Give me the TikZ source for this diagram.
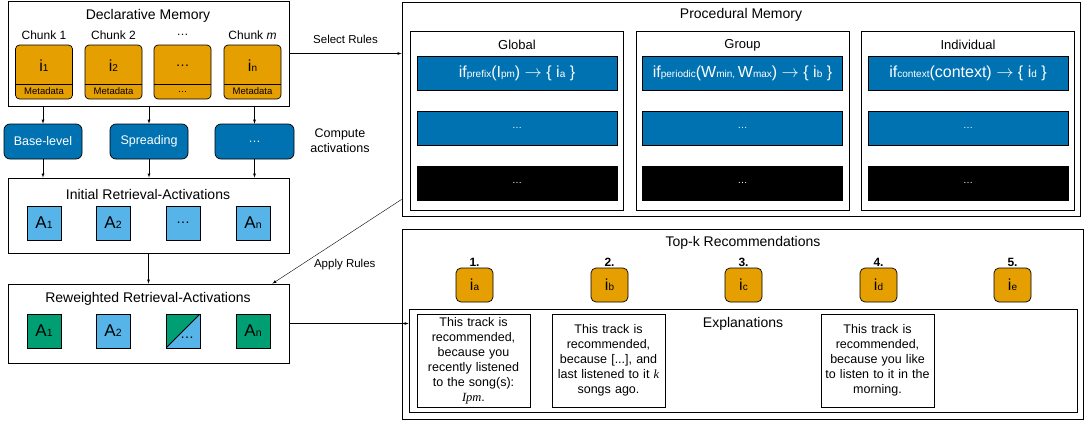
\documentclass[tikz,border=0pt]{standalone}
\usepackage{fontspec}
\setmainfont{Liberation Sans}
\newfontfamily\serifit{Liberation Serif}
\usetikzlibrary{positioning}
\definecolor{chorange}{HTML}{E69F00}
\definecolor{rblue}{HTML}{0072B2}
\definecolor{ablue}{HTML}{56B4E9}
\definecolor{agreen}{HTML}{009E73}
\newcommand{\bigi}[1]{{\fontsize{16}{16}\selectfont i}{\fontsize{10}{10}\selectfont #1}}
\newcommand{\bigA}[1]{{\fontsize{17}{17}\selectfont A}{\fontsize{10.5}{10.5}\selectfont #1}}
\newcommand{\lo}[1]{{\fontsize{10}{10}\selectfont #1}}

\begin{document}
\begin{tikzpicture}[x=1pt,y=-1pt,>=latex,
  panel/.style={draw,line width=0.8pt,inner sep=0pt},
  title/.style={font=\fontsize{14}{16}\selectfont},
  chunk/.style={draw,line width=0.7pt,fill=chorange,rounded corners=4pt,minimum width=57pt,minimum height=54pt,inner sep=0pt},
  comp/.style={draw,line width=0.7pt,fill=rblue,text=white,rounded corners=6pt,minimum height=35pt,font=\fontsize{12.5}{14}\selectfont},
  act/.style={draw,line width=0.8pt,minimum size=34pt,inner sep=0pt},
  rulebar/.style={draw,line width=0.7pt,fill=rblue,text=white,minimum width=200pt,minimum height=34pt,inner sep=0pt,font=\fontsize{16}{16}\selectfont},
  rank/.style={draw,line width=0.7pt,fill=chorange,rounded corners=5pt,minimum width=37pt,minimum height=34pt,inner sep=0pt},
  expbox/.style={draw,line width=0.8pt,minimum width=113pt,minimum height=93pt,text width=111pt,inner sep=1pt,align=center,font=\fontsize{12.5}{15}\selectfont},
  arrowlab/.style={font=\fontsize{11.5}{14}\selectfont}]
\useasboundingbox (0,0) rectangle (1086,423);

% declarative memory
\node[panel,minimum width=281pt,minimum height=105pt] (decl) at (148.5,53.5) {};
\node[title] (declT) at (148,16) {Declarative Memory};
\foreach \n/\x/\lab/\itm/\meta in {1/44/{Chunk 1}/{\bigi{1}}/Metadata,2/113.5/{Chunk 2}/{\bigi{2}}/Metadata,3/182.5/{…}/{\fontsize{14}{14}\selectfont …}/…,4/252.5/{Chunk \textit{m}}/{\bigi{n}}/Metadata}{
  \node[chunk] (ch\n) at (\x,72) {};
  \draw[line width=0.7pt] ([yshift=15pt]ch\n.south west) -- ([yshift=15pt]ch\n.south east);
  \node[font=\fontsize{12}{14}\selectfont] (chl\n) at (\x,35) {\lab};
  \node (chi\n) at (\x,66) {\itm};
  \node[font=\fontsize{9.5}{10}\selectfont] (chm\n) at (\x,91.5) {\meta};
}

% activation functions
\node[comp,minimum width=78pt] (bl) at (43,141.5) {Base-level};
\node[comp,minimum width=78pt] (sp) at (149,141.5) {Spreading};
\node[comp,minimum width=79pt] (cx) at (254.5,141.5) {…};
\node[align=center,font=\fontsize{12.5}{15}\selectfont] (compL) at (340,141) {Compute\\activations};

% initial activations
\node[panel,minimum width=281pt,minimum height=75pt] (init) at (148.5,215.5) {};
\node[title] (initT) at (148,194) {Initial Retrieval-Activations};
\foreach \n/\x/\t in {1/44/{\bigA{1}},2/113/{\bigA{2}},3/183/{\fontsize{14}{14}\selectfont …},4/253/{\bigA{n}}}
  \node[act,fill=ablue] (ia\n) at (\x,223) {\t};

\foreach \c in {bl,sp,cx}{
  \draw[->] (decl.south -| \c) -- (\c);
  \draw[->] (\c) -- (init.north -| \c);
}

% reweighted activations
\node[panel,minimum width=281pt,minimum height=79pt] (rew) at (148.5,323.5) {};
\node[title] (rewT) at (148,299) {Reweighted Retrieval-Activations};
\node[act,fill=agreen] (ra1) at (44,331) {\bigA{1}};
\node[act,fill=ablue] (ra2) at (113,331) {\bigA{2}};
\node[act,fill=ablue,path picture={
  \fill[agreen] (path picture bounding box.south west) -- (path picture bounding box.north west) -- (path picture bounding box.north east) -- cycle;
  \draw[line width=0.8pt] (path picture bounding box.south west) -- (path picture bounding box.north east);}] (ra3) at (183,331) {};
\node[font=\fontsize{14}{14}\selectfont] (ra3d) at (187,338) {…};
\node[act,fill=agreen] (ra4) at (253,331) {\bigA{n}};
\draw[->] (init) -- (rew);

% procedural memory
\node[panel,minimum width=678pt,minimum height=214pt] (proc) at (741,109) {};
\node[title] (procT) at (741,15) {Procedural Memory};
\foreach \n/\x/\t/\r in {1/517/Global/{if\lo{prefix}(I\lo{pm}) $\rightarrow$ \{ i\lo{a} \}},
  2/742.5/Group/{if\lo{periodic}(W\lo{min, }W\lo{max}) $\rightarrow$ \{ i\lo{b} \}},
  3/968/Individual/{if\lo{context}(context) $\rightarrow$ \{ i\lo{d} \}}}{
  \node[panel,minimum width=213pt,minimum height=179pt] (sub\n) at (\x,120.5) {};
  \node[font=\fontsize{13}{15}\selectfont] (subT\n) at (\x,45) {\t};
  \node[rulebar] (rA\n) at (\x,73.5) {\r};
  \node[rulebar] (rB\n) at (\x,128) {\lo{…}};
  \node[rulebar,fill=black] (rC\n) at (\x,183) {\lo{…}};
}

% recommendations
\node[panel,minimum width=681pt,minimum height=190pt] (topk) at (742.5,324) {};
\node[title] (topkT) at (743,243) {Top-k Recommendations};
\foreach \n/\x/\s in {1/474.5/a,2/609.5/b,3/743.5/c,4/878.5/d,5/1012.5/e}{
  \node[font=\bfseries\fontsize{12}{14}\selectfont] (num\n) at (\x,262) {\n.};
  \node[rank] (rk\n) at (\x,285) {\bigi{\s}};
}
\node[panel,minimum width=668pt,minimum height=103pt] (expl) at (743,360.5) {};
\node[title] (explT) at (743,324) {Explanations};
\node[expbox] (ex1) at (473.5,360.5) {This track is\\recommended,\\because you\\recently listened\\to the song(s):\\{\serifit\itshape Ipm}.};
\node[expbox] (ex2) at (608.5,360.5) {This track is\\recommended,\\because [...], and\\last listened to it {\serifit\itshape k}\\songs ago.};
\node[expbox] (ex4) at (877.5,360.5) {This track is\\recommended,\\because you like\\to listen to it in the\\morning.};

% connections between memories
\draw[->] (decl.east) -- (proc.west |- decl.east) node[arrowlab,midway,above=6pt] (selL) {Select Rules};
\draw[->] ([yshift=17pt]proc.south west) -- ([xshift=-17pt]rew.north east) node[arrowlab,pos=0.44,below=19pt] (appL) {Apply Rules};
\draw[->] (rew.east) -- (expl.west |- rew.east);
\end{tikzpicture}
\end{document}
